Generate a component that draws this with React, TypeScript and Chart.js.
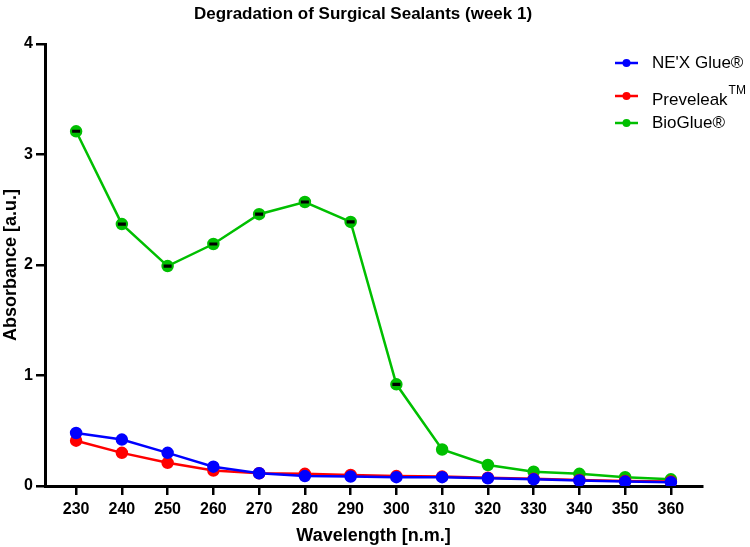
import React, { useEffect, useRef } from 'react';
import Chart from 'chart.js/auto';

const wavelengths = [230, 240, 250, 260, 270, 280, 290, 300, 310, 320, 330, 340, 350, 360];
const nexGlue = [0.48, 0.42, 0.3, 0.175, 0.115, 0.09, 0.085, 0.08, 0.08, 0.07, 0.06, 0.05, 0.04, 0.035];
const preveleak = [0.41, 0.3, 0.21, 0.14, 0.115, 0.11, 0.1, 0.09, 0.085, 0.075, 0.065, 0.055, 0.045, 0.04];
const bioGlue = [3.21, 2.37, 1.99, 2.19, 2.46, 2.57, 2.39, 0.92, 0.33, 0.19, 0.13, 0.11, 0.08, 0.06];
const bioGlueSd = [0.005, 0.005, 0.005, 0.005, 0.005, 0.005, 0.005, 0.005, 0, 0, 0, 0, 0, 0];
const yTicks = [0, 1, 2, 3, 4];
const chartTitle = 'Degradation of Surgical Sealants (week 1)';

const FONT = "'Liberation Sans', Arial, sans-serif";

const errorBars = {
  id: 'errorBars',
  afterDatasetsDraw(chart: any) {
    const ctx = chart.ctx;
    const meta = chart.getDatasetMeta(2);
    const y = chart.scales.y;
    ctx.save();
    ctx.strokeStyle = '#000';
    ctx.lineWidth = 2;
    meta.data.forEach((pt: any, i: number) => {
      const sd = bioGlueSd[i];
      if (!sd) return;
      const top = y.getPixelForValue(bioGlue[i] + sd);
      const bot = y.getPixelForValue(bioGlue[i] - sd);
      ctx.beginPath();
      ctx.moveTo(pt.x - 4, top);
      ctx.lineTo(pt.x + 4, top);
      ctx.moveTo(pt.x - 4, bot);
      ctx.lineTo(pt.x + 4, bot);
      ctx.moveTo(pt.x, top);
      ctx.lineTo(pt.x, bot);
      ctx.stroke();
    });
    ctx.restore();
  },
};

const legendRows = [63, 96, 123];

// title (offset to the right like the original) and the side legend with superscript
const overlay = {
  id: 'overlay',
  afterDraw(chart: any) {
    const ctx = chart.ctx;
    ctx.save();
    ctx.fillStyle = '#000';
    ctx.textAlign = 'center';
    ctx.textBaseline = 'middle';
    ctx.font = `bold 17px ${FONT}`;
    ctx.fillText(chartTitle, 363, 14);

    chart.data.datasets.forEach((ds: any, i: number) => {
      const ly = legendRows[i];
      ctx.strokeStyle = ds.borderColor;
      ctx.fillStyle = ds.borderColor;
      ctx.lineWidth = 2.5;
      ctx.beginPath();
      ctx.moveTo(615, ly);
      ctx.lineTo(638, ly);
      ctx.stroke();
      ctx.beginPath();
      ctx.arc(626.5, ly, 4, 0, Math.PI * 2);
      ctx.fill();
      ctx.fillStyle = '#000';
      ctx.textBaseline = 'middle';
      ctx.textAlign = 'left';
      ctx.font = `17px ${FONT}`;
      if (ds.sup) {
        const ty = ly + 4;
        ctx.fillText(ds.label, 652, ty);
        const w = ctx.measureText(ds.label).width;
        ctx.font = `12px ${FONT}`;
        ctx.fillText(ds.sup, 652 + w + 1, ty - 9);
      } else {
        ctx.fillText(ds.label, 652, ly);
      }
    });
    ctx.restore();
  },
};

const App: React.FC = () => {
  const canvasRef = useRef<HTMLCanvasElement>(null);
  const chartRef = useRef<Chart | null>(null);

  useEffect(() => {
    if (!canvasRef.current) return;
    const ctx = canvasRef.current.getContext('2d');
    if (!ctx) return;
    if (chartRef.current) chartRef.current.destroy();

    const toPoints = (vals: number[]) => wavelengths.map((w, i) => ({ x: w, y: vals[i] }));
    const common = { borderWidth: 2.5, pointRadius: 5, pointHoverRadius: 5, tension: 0 };

    chartRef.current = new Chart(ctx, {
      type: 'line',
      data: {
        datasets: [
          { label: "NE'X Glue®", data: toPoints(nexGlue), borderColor: '#0000FF', backgroundColor: '#0000FF', ...common },
          { label: 'Preveleak', sup: 'TM', data: toPoints(preveleak), borderColor: '#FF0000', backgroundColor: '#FF0000', ...common },
          { label: 'BioGlue®', data: toPoints(bioGlue), borderColor: '#00BF00', backgroundColor: '#00BF00', ...common },
        ] as any,
      },
      options: {
        animation: false,
        responsive: true,
        maintainAspectRatio: false,
        layout: { padding: { top: 44, right: 48, bottom: 0, left: 0 } },
        plugins: {
          legend: { display: false },
          tooltip: { enabled: false },
          title: { display: false },
        },
        scales: {
          x: {
            type: 'linear',
            min: 223.2,
            max: 366.8,
            afterBuildTicks: (scale: any) => {
              scale.ticks = wavelengths.map((v) => ({ value: v }));
            },
            afterFit: (scale: any) => {
              scale.height = 61;
            },
            grid: { drawOnChartArea: false, drawTicks: true, tickLength: 9, color: '#000', lineWidth: 2.5 },
            border: { display: true, color: '#000', width: 3 },
            ticks: {
              color: '#000',
              font: { family: FONT, size: 16, weight: 'bold' },
              padding: 5,
              autoSkip: false,
              maxRotation: 0,
              callback: (v: any) => String(v),
            },
            title: {
              display: true,
              text: 'Wavelength [n.m.]',
              color: '#000',
              font: { family: FONT, size: 18, weight: 'bold' },
              padding: { top: 0, bottom: 0 },
            },
          },
          y: {
            type: 'linear',
            min: 0,
            max: 4,
            afterBuildTicks: (scale: any) => {
              scale.ticks = yTicks.map((v) => ({ value: v }));
            },
            afterFit: (scale: any) => {
              scale.width = 45;
            },
            grid: { drawOnChartArea: false, drawTicks: true, tickLength: 9, color: '#000', lineWidth: 2.5 },
            border: { display: true, color: '#000', width: 3 },
            ticks: {
              color: '#000',
              font: { family: FONT, size: 16, weight: 'bold' },
              padding: 3,
            },
            title: {
              display: true,
              text: 'Absorbance [a.u.]',
              color: '#000',
              font: { family: FONT, size: 18, weight: 'bold' },
              padding: { top: 0, bottom: 0 },
            },
          },
        },
      } as any,
      plugins: [errorBars, overlay],
    });

    return () => {
      if (chartRef.current) {
        chartRef.current.destroy();
        chartRef.current = null;
      }
    };
  }, []);

  return (
    <div style={{ position: 'fixed', left: 0, top: 0, width: 750, height: 547, background: '#fff' }}>
      <canvas ref={canvasRef} />
    </div>
  );
};

export default App;
